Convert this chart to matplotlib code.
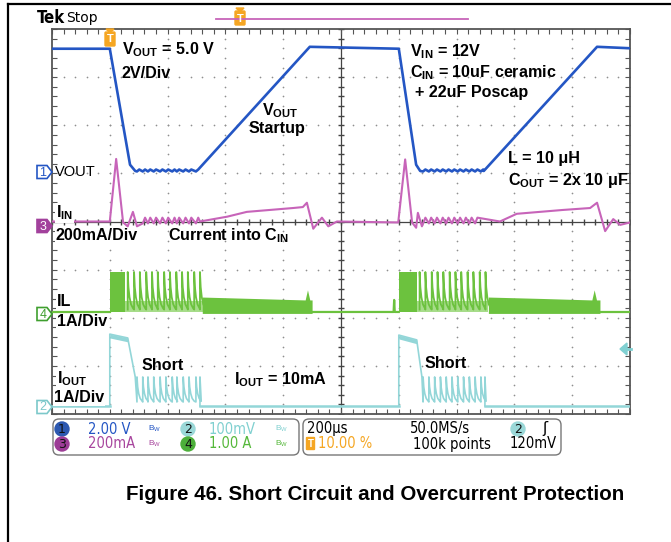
import numpy as np
import matplotlib
matplotlib.use("Agg")
import matplotlib.pyplot as plt
from matplotlib.patches import Polygon, FancyBboxPatch, Circle
from matplotlib.ticker import MultipleLocator

plt.rcParams['font.family'] = ['Liberation Sans', 'DejaVu Sans']
plt.rcParams['mathtext.fontset'] = 'custom'
plt.rcParams['mathtext.rm'] = 'Liberation Sans'
plt.rcParams['mathtext.bf'] = 'Liberation Sans:bold'

# ---- trace data (time in divisions, level in divisions; 10 x 8 screen) ----
events = [1.0, 6.0]

# ch1 VOUT
vout_t = [0, 1.0, 1.35, 1.44, 2.47, 4.46, 6.0, 6.30, 6.37, 7.47, 9.43, 10]
vout_v = [7.59, 7.59, 5.18, 5.05, 5.05, 7.63, 7.59, 5.18, 5.05, 5.05, 7.63, 7.60]

# ch3 IIN
iin_t = [0, 1.0, 1.11, 1.23, 1.31, 1.40, 1.47, 2.56, 3.03, 3.37, 4.17, 4.34, 4.41, 4.52,
         4.67, 4.78, 4.93, 5.99, 6.11, 6.23, 6.30, 6.33, 6.40, 7.75, 8.04, 8.84, 9.31,
         9.43, 9.57, 9.71, 9.83, 10]
iin_v = [4.0, 4.0, 5.30, 3.98, 3.90, 4.20, 3.90, 4.0, 4.10, 4.20, 4.28, 4.30, 4.39, 3.85,
         4.08, 3.90, 4.0, 3.98, 5.29, 3.98, 3.87, 4.18, 3.90, 4.0, 4.16, 4.24, 4.28,
         4.39, 3.80, 4.05, 3.93, 3.98]

# ch4 IL
il_base = 2.12
il_peak = 2.95
il_dense = [(1.0, 1.26), (6.0, 6.31)]
il_teeth_1 = [1.31, 1.42, 1.52, 1.63, 1.73, 1.83, 1.94, 2.04, 2.15, 2.25, 2.35, 2.46, 2.56]
il_teeth_2 = [6.36, 6.46, 6.57, 6.67, 6.77, 6.88, 6.98, 7.08, 7.19, 7.29, 7.40, 7.50]
il_band_t = [[2.60, 3.5, 4.38, 4.42, 4.46, 4.50], [7.55, 8.5, 9.34, 9.38, 9.42, 9.48]]
il_band_top = [2.43, 2.40, 2.37, 2.58, 2.37, 2.37]
il_pre_spike = (5.92, 2.37)

# ch2 IOUT
iout_base = 0.17
iout_plateau = [(1.66, 1.58), (1.64, 1.54)]
iout_plateau_end = [1.31, 6.31]
iout_fall_end = [1.44, 6.40]
iout_teeth_1 = [1.47, 1.57, 1.66, 1.76, 1.87, 1.97, 2.08, 2.16, 2.27, 2.37, 2.49]
iout_teeth_2 = [6.42, 6.52, 6.62, 6.72, 6.82, 6.92, 7.02, 7.12, 7.22, 7.32, 7.42]
iout_tooth_peak = 0.77
iout_tooth_low = 0.25

BLUE = '#2456c4'
PINK = '#c764b9'
GREEN = '#6cc23e'
CYAN = '#93d6d8'
ORANGE = '#f5a623'

# decay shape of one hiccup tooth (fraction of period, fraction of height)
shape_f = [0, 0.12, 0.3, 0.55, 0.9]
shape_h = [1, 0.6, 0.33, 0.14, 0.03]


def teeth(times, low, peak):
    xs, ys = [], []
    period = np.diff(times).mean()
    for t in times:
        xs.append(t); ys.append(low)
        for f, h in zip(shape_f, shape_h):
            xs.append(t + f * period)
            ys.append(low + h * (peak - low))
    return xs, ys


fig = plt.figure(figsize=(6.71, 5.42), dpi=100)
ax = fig.add_axes([52 / 671, 1 - 414 / 542, 578 / 671, 385 / 542])
ax.set_xlim(0, 10)
ax.set_ylim(0, 8)
for s in ax.spines.values():
    s.set_color('#555555')
    s.set_linewidth(1.3)
ax.xaxis.set_major_locator(MultipleLocator(1))
ax.yaxis.set_major_locator(MultipleLocator(1))
ax.xaxis.set_minor_locator(MultipleLocator(0.2))
ax.yaxis.set_minor_locator(MultipleLocator(0.2))
ax.tick_params(which='both', direction='in', length=3.5, width=0.8, color='#555555',
               top=True, right=True, labelbottom=False, labelleft=False)

# dotted graticule
fine_y = np.arange(0, 8.01, 0.2)
fine_x = np.arange(0, 10.01, 0.2)
for i in range(1, 10):
    if i != 5:
        ax.scatter(np.full_like(fine_y, i), fine_y, s=1.5, c='#8f8f8f', lw=0, zorder=1)
for j in range(1, 8):
    if j != 4:
        ax.scatter(fine_x, np.full_like(fine_x, j), s=1.5, c='#8f8f8f', lw=0, zorder=1)
ax.axvline(5, color='#444444', lw=0.9, zorder=1)
ax.axhline(4, color='#444444', lw=0.9, zorder=1)
ax.plot(fine_x, np.full_like(fine_x, 4), ls='none', marker='|', ms=4, color='#444444', zorder=1)
ax.plot(np.full_like(fine_y, 5), fine_y, ls='none', marker='_', ms=4, color='#444444', zorder=1)

# ch1 VOUT with small ripple on the low section
bt, bv = [], []
for t, v in zip(vout_t, vout_v):
    bt.append(t); bv.append(v)
    if v == 5.05 and t in (1.44, 6.37):
        for tt in (iout_teeth_1 if t < 5 else iout_teeth_2):
            bt += [tt, tt + 0.04]
            bv += [5.04, 5.08]
order = np.argsort(bt, kind='stable')
ax.plot(np.array(bt)[order], np.array(bv)[order], color=BLUE, lw=1.9, zorder=5)

# ch3 IIN with ringing between events
pt, pv = list(iin_t), list(iin_v)
for tt in iout_teeth_1[1:] + iout_teeth_2[:-1]:
    pt += [tt, tt + 0.04]
    pv += [3.96, 4.08]
order = np.argsort(pt, kind='stable')
ax.plot(np.array(pt)[order], np.array(pv)[order], color=PINK, lw=1.5, zorder=4)

# ch4 IL
for (a, b), tl in zip(il_dense, [il_teeth_1, il_teeth_2]):
    ax.fill_between([a, b], il_base, il_peak, color=GREEN, lw=0, zorder=3)
    ax.fill_between([b, tl[-1] + 0.05], il_base, il_base + 0.22, color='#a7dc8a', lw=0, zorder=3)
    xs, ys = teeth(tl, il_base + 0.05, il_peak)
    ax.plot(xs, ys, color=GREEN, lw=1.3, zorder=3)
for bt_ in il_band_t:
    ax.fill_between(bt_, il_base - 0.03, il_band_top, color=GREEN, lw=0, zorder=3)
g_t = [0, 1.0, 1.0, 2.6, 4.5, il_pre_spike[0] - 0.01, il_pre_spike[0], il_pre_spike[0] + 0.01, 6.0, 6.0, 7.55, 9.48, 10]
g_v = [il_base, il_base, il_peak, il_base, il_base, il_base, il_pre_spike[1], il_base, il_base, il_peak, il_base, il_base, il_base]
ax.plot(g_t[:2], g_v[:2], color=GREEN, lw=1.6, zorder=3)
ax.plot(g_t[4:9], g_v[4:9], color=GREEN, lw=1.6, zorder=3)
ax.plot(g_t[11:], g_v[11:], color=GREEN, lw=1.6, zorder=3)

# ch2 IOUT
for k, ev in enumerate(events):
    tl = [iout_teeth_1, iout_teeth_2][k]
    p0, p1 = iout_plateau[k]
    xs = [ev, ev, iout_plateau_end[k], iout_fall_end[k], tl[0]]
    ys = [iout_base, p0, p1, iout_tooth_peak, iout_tooth_low]
    tx, ty = teeth(tl, iout_tooth_low, iout_tooth_peak)
    ax.plot(xs + tx + [tl[-1] + 0.07, tl[-1] + 0.07],
            ys + ty + [iout_tooth_peak, iout_base], color=CYAN, lw=1.2, zorder=3)
    ax.fill_between([ev, iout_plateau_end[k]], [p0 - 0.08, p1 - 0.08], [p0, p1], color=CYAN, lw=0, zorder=3)
ax.plot([0, 1.0], [iout_base] * 2, color=CYAN, lw=1.8, zorder=3)
ax.plot([iout_teeth_1[-1] + 0.07, 6.0], [iout_base] * 2, color=CYAN, lw=1.8, zorder=3)
ax.plot([iout_teeth_2[-1] + 0.07, 10], [iout_base] * 2, color=CYAN, lw=1.8, zorder=3)

# ---- overlay in pixel coordinates ----
ov = fig.add_axes([0, 0, 1, 1])
ov.set_xlim(0, 671)
ov.set_ylim(542, 0)
ov.axis('off')

ov.plot([8, 671], [4, 4], color='black', lw=1.6)
ov.plot([8, 8], [4, 542], color='black', lw=1.6)

ov.text(37, 18, 'Tek', fontsize=12, fontweight='bold', family='DejaVu Sans', fontstretch='condensed',
        va='center')
ov.text(66, 18, 'Stop', fontsize=10, family='DejaVu Sans', va='center')
ov.plot([216, 468], [19, 19], color=PINK, lw=1.3)


def trig_mark(x, y):
    ov.add_patch(Polygon([[x - 4, y - 9], [x + 4, y - 9], [x, y - 5]], color=ORANGE))
    ov.add_patch(FancyBboxPatch((x - 4, y - 5), 8, 12, boxstyle='round,pad=1', color=ORANGE))
    ov.text(x, y + 1.5, 'T', color='white', fontsize=8, fontweight='bold', ha='center', va='center')


trig_mark(240, 17)
trig_mark(110, 38)


def ch_mark(y, num, col, filled=False):
    x0 = 37
    ov.add_patch(Polygon([[x0, y - 6.5], [x0 + 10, y - 6.5], [x0 + 15, y], [x0 + 10, y + 6.5], [x0, y + 6.5]],
                         closed=True, fc=col if filled else 'white', ec=col, lw=1.2, zorder=6))
    ov.text(x0 + 6, y + 0.5, num, color='white' if filled else col, fontsize=9, ha='center', va='center', zorder=7)


ch_mark(172, '1', BLUE)
ch_mark(226, '3', '#a2419c', filled=True)
ch_mark(314, '4', '#3f9f2f')
ch_mark(407, '2', '#7cc8ca')
ov.add_patch(Polygon([[620, 349], [627, 343], [627, 355]], color='#80d0d2'))
ov.plot([625, 631], [349, 349], color='#80d0d2', lw=2)

wb = dict(facecolor='white', edgecolor='none', pad=0.5)
lbl = dict(fontsize=11.6, fontweight='bold', va='center', ha='left')
ov.text(55, 172, 'VOUT', fontsize=10.5, va='center')
ov.text(122, 50, r'V$_{\mathbf{OUT}}$ = 5.0 V', **lbl)
ov.text(122, 73, '2V/Div', **lbl)
ov.text(262, 111, r'V$_{\mathbf{OUT}}$', **lbl)
ov.text(249, 128, 'Startup', **lbl)
ov.text(410, 52, r'V$_{\mathbf{IN}}$ = 12V', **lbl)
ov.text(410, 73, r'C$_{\mathbf{IN}}$ = 10uF ceramic', **lbl)
ov.text(415, 93, '+ 22uF Poscap', **lbl)
ov.text(508, 158, 'L = 10 μH', **lbl)
ov.text(508, 180, r'C$_{\mathbf{OUT}}$ = 2x 10 μF', **lbl)
ov.text(56, 213, r'I$_{\mathbf{IN}}$', bbox=wb, **lbl)
ov.text(56, 236, '200mA/Div', bbox=wb, **lbl)
ov.text(168, 236, r'Current into C$_{\mathbf{IN}}$', **lbl)
ov.text(57, 302, 'IL', bbox=wb, **lbl)
ov.text(57, 322, '1A/Div', bbox=wb, **lbl)
ov.text(142, 366, 'Short', **lbl)
ov.text(234, 380, r'I$_{\mathbf{OUT}}$ = 10mA', **lbl)
ov.text(57, 379, r'I$_{\mathbf{OUT}}$', bbox=wb, **lbl)
ov.text(54, 398, '1A/Div', bbox=wb, **lbl)
ov.text(425, 363, 'Short', **lbl)

# status bar
ov.add_patch(FancyBboxPatch((53, 419), 246, 36, boxstyle='round,pad=0,rounding_size=6',
                            fc='white', ec='#777777', lw=1))
ov.add_patch(FancyBboxPatch((303, 419), 258, 36, boxstyle='round,pad=0,rounding_size=6',
                            fc='white', ec='#777777', lw=1))
st = dict(fontsize=10.5, va='center', family='DejaVu Sans', fontstretch='condensed')


def badge(x, y, num, col):
    ov.add_patch(Circle((x, y), 7, color=col))
    ov.text(x, y + 0.5, num, color='#111111', fontsize=9, ha='center', va='center', family='DejaVu Sans')


badge(62, 429, '1', '#2c58b0')
badge(62, 444, '3', '#9c3c96')
badge(188, 429, '2', '#9ad8d8')
badge(188, 444, '4', '#4caf3a')
badge(518, 429, '2', '#9ad8d8')
ov.text(88, 429, '2.00 V', color=BLUE, **st)
ov.text(88, 444, '200mA', color='#a8469e', **st)
ov.text(209, 429, '100mV', color='#80d0d0', **st)
ov.text(209, 444, '1.00 A', color='#55b83a', **st)
for bx, by, bc in [(148, 429, BLUE), (148, 444, '#a8469e'), (275, 429, '#80d0d0'), (275, 444, '#55b83a')]:
    ov.text(bx, by, r'$\mathregular{B_W}$', color=bc, fontsize=6, va='center')
ov.text(307, 429, '200μs', color='black', **st)
ov.text(410, 429, '50.0MS/s', color='black', **st)
ov.text(542, 429, 'ʃ', color='black', fontsize=11, va='center', family='DejaVu Sans')
ov.add_patch(FancyBboxPatch((307, 438), 7, 11, boxstyle='round,pad=0.5', color=ORANGE))
ov.text(310.5, 444, 'T', color='white', fontsize=7, fontweight='bold', ha='center', va='center')
ov.text(318, 444, '10.00 %', color=ORANGE, **st)
ov.text(413, 444, '100k points', color='black', **st)
ov.text(510, 444, '120mV', color='black', **st)

ov.text(375, 495, 'Figure 46. Short Circuit and Overcurrent Protection', fontsize=14.8,
        fontweight='bold', ha='center', va='center')

fig.savefig('out.png', dpi=100)
